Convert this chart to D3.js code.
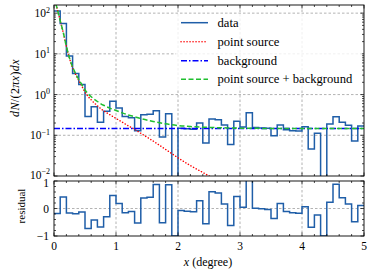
<!DOCTYPE html>
<html><head><meta charset="utf-8">
<script src="https://cdn.jsdelivr.net/npm/d3@7"></script>
<style>
html,body{margin:0;padding:0;background:#fff;}
svg{display:block;}
text{font-family:"Liberation Serif","DejaVu Serif",serif;fill:#000;}
</style></head><body>
<svg id="c" width="373" height="276"></svg>
<script>
// ---------- data ----------
const binWidth = 0.1;
const dataValues = [113, 56, 8.9, 3.3, 1.76, 0.29, 0.50, 0.21, 0.39, 0.685,
  0.47, 0.29, 0.27, 0.13, 0.32, 0.33, 0.40, 0.091, 0.34, 0,
  0.148, 0.144, 0.14, 0.20, 0.065, 0.25, 0.24, 0.18, 0.059, 0.22,
  0.16, 0.36, 0.155, 0.152, 0.148, 0.098, 0.18, 0.136, 0.13, 0.127,
  0.162, 0.046, 0.113, 0, 0.19, 0.285, 0.21, 0.177, 0.072, 0.17];
const residualValues = [-0.18, 0.42, -0.16, -0.19, -0.13, -0.73, -0.42, -0.67, -0.30, 0.47,
  0.18, -0.15, -0.11, -0.53, 0.38, 0.41, 0.87, -0.52, 0.86, -1,
  -0.07, -0.10, -0.12, 0.28, -0.55, 0.61, 0.56, 0.16, -0.62, 0.44,
  0.05, 1.3, 0.01, -0.01, -0.04, -0.36, 0.18, -0.11, -0.15, -0.17,
  0.06, -0.68, -0.24, -1, 0.23, 0.88, 0.39, 0.16, -0.48, 0.11];
const modelX = [0, 0.05, 0.1, 0.15, 0.2, 0.25, 0.3, 0.35, 0.4, 0.45, 0.5, 0.55, 0.6, 0.7, 0.8, 0.9,
  1.0, 1.1, 1.2, 1.3, 1.4, 1.6, 1.8, 2.0, 2.2, 2.4, 2.6, 2.8, 3.0, 3.5, 4.0, 4.5, 5.0];
const pointSource = [260, 130, 65, 33, 15, 7.8, 4.6, 3.1, 2.2, 1.6, 1.15, 0.9, 0.74, 0.53, 0.40, 0.32,
  0.26, 0.21, 0.17, 0.14, 0.112, 0.072, 0.045, 0.028, 0.018, 0.0122, 0.0082, 0.0055, 0.0037, 0.0013, 0.0005, 0.0002, 0.0001];
const background = 0.146;
const xTicks = [0, 1, 2, 3, 4, 5];
const yTicksExp = [-2, -1, 0, 1, 2];
const resTicks = [-1, 0, 1];
const legendLabels = ["data", "point source", "background", "point source + background"];

// ---------- layout ----------
const svg = d3.select("#c");
const L = 54, R = 364, T1 = 5, B1 = 176, T2 = 181, B2 = 236;
const x = d3.scaleLinear().domain([0, 5]).range([L, R]);
const y = d3.scaleLog().domain([1e-2, Math.pow(10, 2.2)]).range([B1, T1]);
const yr = d3.scaleLinear().domain([-1, 1]).range([B2, T2]);
const gridColor = "#a0a0a0";
const dataColor = "#1f5ea8";

const defs = svg.append("defs");
defs.append("clipPath").attr("id", "clip1").append("rect").attr("x", L).attr("y", T1).attr("width", R - L).attr("height", B1 - T1);
defs.append("clipPath").attr("id", "clip2").append("rect").attr("x", L).attr("y", T2).attr("width", R - L).attr("height", B2 - T2);

// grids
const g1 = svg.append("g");
[1, 2, 3, 4].forEach(v => {
  g1.append("line").attr("x1", x(v)).attr("x2", x(v)).attr("y1", T1).attr("y2", B1)
    .attr("stroke", gridColor).attr("stroke-width", 0.8).attr("stroke-dasharray", "2.5,2");
  g1.append("line").attr("x1", x(v)).attr("x2", x(v)).attr("y1", T2).attr("y2", B2)
    .attr("stroke", gridColor).attr("stroke-width", 0.8).attr("stroke-dasharray", "2.5,2");
});
[-1, 0, 1, 2].forEach(e => {
  g1.append("line").attr("x1", L).attr("x2", R).attr("y1", y(Math.pow(10, e))).attr("y2", y(Math.pow(10, e)))
    .attr("stroke", gridColor).attr("stroke-width", 0.8).attr("stroke-dasharray", "2.5,2");
});
g1.append("line").attr("x1", L).attr("x2", R).attr("y1", yr(0)).attr("y2", yr(0))
  .attr("stroke", gridColor).attr("stroke-width", 0.8).attr("stroke-dasharray", "2.5,2");

// model curves
const modelPts = modelX.map((v, i) => ({x: v, ps: pointSource[i], tot: pointSource[i] + background}));
const topG = svg.append("g").attr("clip-path", "url(#clip1)");
const lineOf = key => d3.line().x(d => x(d.x)).y(d => y(d[key])).curve(d3.curveMonotoneX);

// data step
const stepPts = dataValues.map((v, i) => ({x: i * binWidth, v: v > 0 ? v : 1e-6}));
stepPts.push({x: 5, v: stepPts[stepPts.length - 1].v});
topG.append("path").datum(stepPts)
  .attr("d", d3.line().x(d => x(d.x)).y(d => y(d.v)).curve(d3.curveStepAfter))
  .attr("fill", "none").attr("stroke", dataColor).attr("stroke-width", 1.5);

topG.append("path").datum(modelPts).attr("d", lineOf("ps"))
  .attr("fill", "none").attr("stroke", "#ff0000").attr("stroke-width", 1.5)
  .attr("stroke-linecap", "round").attr("stroke-dasharray", "0.1,2.9");
topG.append("line").attr("x1", x(0)).attr("x2", x(5)).attr("y1", y(background)).attr("y2", y(background))
  .attr("stroke", "#0000ff").attr("stroke-width", 1.5).attr("stroke-dasharray", "6,2,1.5,2");
topG.append("path").datum(modelPts).attr("d", lineOf("tot"))
  .attr("fill", "none").attr("stroke", "#1fbf2f").attr("stroke-width", 1.5)
  .attr("stroke-dasharray", "5,2.5");

// residual step
const botG = svg.append("g").attr("clip-path", "url(#clip2)");
const resPts = residualValues.map((v, i) => ({x: i * binWidth, v: v}));
resPts.push({x: 5, v: resPts[resPts.length - 1].v});
botG.append("path").datum(resPts)
  .attr("d", d3.line().x(d => x(d.x)).y(d => yr(Math.max(-1.2, Math.min(1.2, d.v)))).curve(d3.curveStepAfter))
  .attr("fill", "none").attr("stroke", dataColor).attr("stroke-width", 1.5);

// frames
[[T1, B1], [T2, B2]].forEach(([t, b]) => {
  svg.append("rect").attr("x", L).attr("y", t).attr("width", R - L).attr("height", b - t)
    .attr("fill", "none").attr("stroke", "#000").attr("stroke-width", 0.9);
});

// ticks
const tk = svg.append("g").attr("stroke", "#000").attr("stroke-width", 0.7);
function vtick(px, t, b, len) {
  tk.append("line").attr("x1", px).attr("x2", px).attr("y1", b).attr("y2", b - len);
  tk.append("line").attr("x1", px).attr("x2", px).attr("y1", t).attr("y2", t + len);
}
function htick(py, len) {
  tk.append("line").attr("x1", L).attr("x2", L + len).attr("y1", py).attr("y2", py);
  tk.append("line").attr("x1", R).attr("x2", R - len).attr("y1", py).attr("y2", py);
}
d3.range(0, 5.001, 0.2).forEach(v => {
  const major = Math.abs(v - Math.round(v)) < 1e-6;
  vtick(x(v), T1, B1, major ? 3.5 : 2);
  vtick(x(v), T2, B2, major ? 3.5 : 2);
});
for (let e = -2; e <= 2; e++) {
  htick(y(Math.pow(10, e)), 3.5);
  for (let m = 2; m <= 9; m++) {
    const v = m * Math.pow(10, e);
    if (v <= y.domain()[1]) htick(y(v), 2);
  }
}
d3.range(-1, 1.001, 0.2).forEach(v => {
  const major = Math.abs(v - Math.round(v)) < 1e-6;
  htick(yr(v), major ? 3.5 : 2);
});

// tick labels
const fs = 11.5;
xTicks.forEach(v => {
  svg.append("text").attr("x", x(v)).attr("y", 249.5).attr("text-anchor", "middle")
    .attr("font-size", fs).text(v);
});
yTicksExp.forEach(e => {
  const t = svg.append("text").attr("x", 50).attr("y", y(Math.pow(10, e)) + (e === -2 ? 2.5 : 4)).attr("text-anchor", "end").attr("font-size", fs);
  t.append("tspan").text("10");
  t.append("tspan").attr("dy", -4.5).attr("font-size", 8).text(e < 0 ? "\u2212" + (-e) : e);
});
resTicks.forEach(v => {
  svg.append("text").attr("x", 49).attr("y", yr(v) + (v === 1 ? 5.5 : 4)).attr("text-anchor", "end")
    .attr("font-size", fs).text(v < 0 ? "\u2212" + (-v) : v);
});

// axis labels
const xl = svg.append("text").attr("x", 208).attr("y", 265.5).attr("text-anchor", "middle").attr("font-size", 12);
xl.append("tspan").attr("font-style", "italic").text("x");
xl.append("tspan").text(" (degree)");

const yl = svg.append("text").attr("transform", `translate(19,88) rotate(-90)`)
  .attr("text-anchor", "middle").attr("font-size", 12).attr("letter-spacing", 0.4);
[["d", 1], ["N", 1], ["/(2", 0], ["\u03c0x", 1], [")", 0], ["dx", 1]].forEach(([s, it]) => {
  yl.append("tspan").attr("font-style", it ? "italic" : "normal").text(s);
});
svg.append("text").attr("transform", `translate(25,206) rotate(-90)`)
  .attr("text-anchor", "middle").attr("font-size", 11).text("residual");

// legend
const lg = svg.append("g");
lg.append("rect").attr("x", 176).attr("y", 14).attr("width", 186).attr("height", 75).attr("rx", 2)
  .attr("fill", "#fff").attr("fill-opacity", 0.8);
const rows = [22.7, 41.7, 60.7, 79.3];
const styles = [
  {c: dataColor, d: null, w: 1.5, cap: "butt"},
  {c: "#ff0000", d: "0.1,2.9", w: 1.5, cap: "round"},
  {c: "#0000ff", d: "6,2,1.5,2", w: 1.5, cap: "butt"},
  {c: "#1fbf2f", d: "5,2.5", w: 1.5, cap: "butt"}
];
legendLabels.forEach((lab, i) => {
  lg.append("line").attr("x1", 181).attr("x2", 208).attr("y1", rows[i]).attr("y2", rows[i])
    .attr("stroke", styles[i].c).attr("stroke-width", styles[i].w).attr("stroke-dasharray", styles[i].d)
    .attr("stroke-linecap", styles[i].cap);
  lg.append("text").attr("x", 217.5).attr("y", rows[i] + 4).attr("font-size", 12.6).text(lab);
});
</script></body></html>
